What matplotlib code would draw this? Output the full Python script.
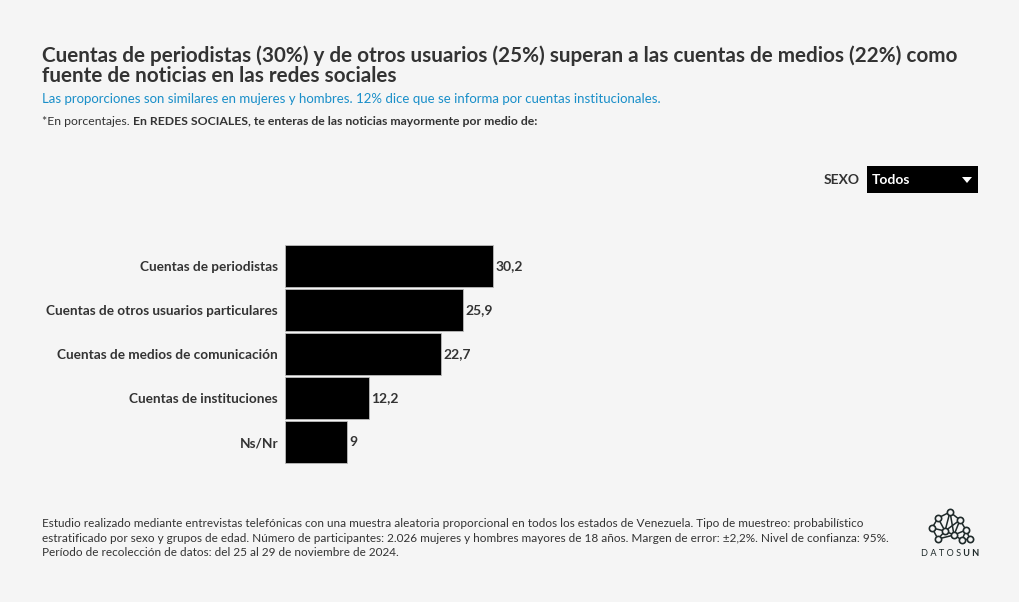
import matplotlib.pyplot as plt
import matplotlib.patches as mpatches

plt.rcParams['font.family'] = ['Lato', 'DejaVu Sans']

categories = ["Cuentas de periodistas", "Cuentas de otros usuarios particulares",
              "Cuentas de medios de comunicación", "Cuentas de instituciones", "Ns/Nr"]
values = [30.2, 25.9, 22.7, 12.2, 9]
value_labels = ["30,2", "25,9", "22,7", "12,2", "9"]

BG = '#f5f5f5'
TXT = '#333333'
W, H = 1020, 602

fig = plt.figure(figsize=(W / 100, H / 100), dpi=100, facecolor=BG)


def fx(px):
    return px / W


def fy(py):
    return 1 - py / H


# grafico de barras
px_per_unit = 208 / 30.2
ax_left, ax_right = 285, 985
ax_top, ax_bot = 244, 464
ax = fig.add_axes([fx(ax_left), fy(ax_bot), fx(ax_right) - fx(ax_left), (ax_bot - ax_top) / H])
ax.set_facecolor('none')
ypos = list(range(len(categories)))
ax.barh(ypos, values, height=0.955, color='black', edgecolor='#bbbbbb', linewidth=0.6)
ax.set_xlim(0, (ax_right - ax_left) / px_per_unit)
ax.set_ylim(len(categories) - 0.5, -0.5)
for y, v, lab in zip(ypos, values, value_labels):
    ax.text(v + 0.3, y, lab, fontsize=10, fontweight='bold', color=TXT, va='center')
ax.set_yticks(ypos)
ax.set_yticklabels(categories, fontsize=9.8, fontweight='bold', color=TXT)
ax.tick_params(axis='y', length=0, pad=5)
ax.set_xticks([])
for s in ax.spines.values():
    s.set_visible(False)

# titulo y subtitulos
fig.text(fx(42), fy(62), "Cuentas de periodistas (30%) y de otros usuarios (25%) superan a las cuentas de medios (22%) como",
         fontsize=14.9, fontweight='bold', color=TXT, va='baseline')
fig.text(fx(42), fy(82), "fuente de noticias en las redes sociales",
         fontsize=14.9, fontweight='bold', color=TXT, va='baseline')
fig.text(fx(42), fy(103), "Las proporciones son similares en mujeres y hombres. 12% dice que se informa por cuentas institucionales.",
         fontsize=9.5, color='#1a8fc9', va='baseline')
t1 = fig.text(fx(42), fy(125), "*En porcentajes. ", fontsize=8.8, color=TXT, va='baseline')
ax.annotate("En REDES SOCIALES, te enteras de las noticias mayormente por medio de:",
            xy=(1, 0), xycoords=t1, fontsize=8.8, fontweight='bold', color=TXT,
            va='bottom', annotation_clip=False)

# selector SEXO
fig.text(fx(860), fy(180), "SEXO", fontsize=10, fontweight='bold', color=TXT, ha='right', va='center')
fig.patches.append(mpatches.Rectangle((fx(867), fy(193)), fx(978) - fx(867), fy(166) - fy(193),
                                      transform=fig.transFigure, facecolor='black', edgecolor='none'))
fig.text(fx(872), fy(180), "Todos", fontsize=10, fontweight='bold', color='white', va='center')
fig.patches.append(mpatches.Polygon([(fx(962), fy(177)), (fx(972), fy(177)), (fx(967), fy(183))],
                                    closed=True, transform=fig.transFigure, facecolor='white', edgecolor='none'))

# pie de pagina
footer = ["Estudio realizado mediante entrevistas telefónicas con una muestra aleatoria proporcional en todos los estados de Venezuela. Tipo de muestreo: probabilístico",
          "estratificado por sexo y grupos de edad. Número de participantes: 2.026 mujeres y hombres mayores de 18 años. Margen de error: ±2,2%. Nivel de confianza: 95%.",
          "Período de recolección de datos: del 25 al 29 de noviembre de 2024."]
for i, line in enumerate(footer):
    fig.text(fx(42), fy(527 + i * 14.5), line, fontsize=8.5, color=TXT, va='baseline')

# logo DATOSUN
nodes = [(950, 512), (938, 518), (960, 520), (932, 528), (945, 531), (966, 530),
         (954, 535), (938, 539), (962, 540), (970, 539)]
edges = [(0, 1), (0, 2), (1, 3), (1, 4), (0, 4), (2, 4), (2, 5), (2, 6), (3, 4), (3, 7), (4, 6),
         (4, 7), (5, 6), (5, 9), (6, 8), (8, 9), (6, 7), (5, 8), (0, 6)]
for a, b in edges:
    fig.lines.append(plt.Line2D([fx(nodes[a][0]), fx(nodes[b][0])], [fy(nodes[a][1]), fy(nodes[b][1])],
                                transform=fig.transFigure, color='#1f2a2a', linewidth=1.1))
for x, y in nodes:
    fig.lines.append(plt.Line2D([fx(x)], [fy(y)], transform=fig.transFigure, marker='o', markersize=4.5,
                                markerfacecolor=BG, markeredgecolor='#1f2a2a', markeredgewidth=1.2))
lg = fig.text(fx(921), fy(556), "D A T O S", fontsize=6.6, color='#1f2a2a', va='baseline')
ax.annotate(" U N", xy=(1, 0), xycoords=lg, fontsize=6.6, fontweight='bold', color='#1f2a2a',
            va='bottom', annotation_clip=False)

fig.savefig('out.png', dpi=100, facecolor=BG)
